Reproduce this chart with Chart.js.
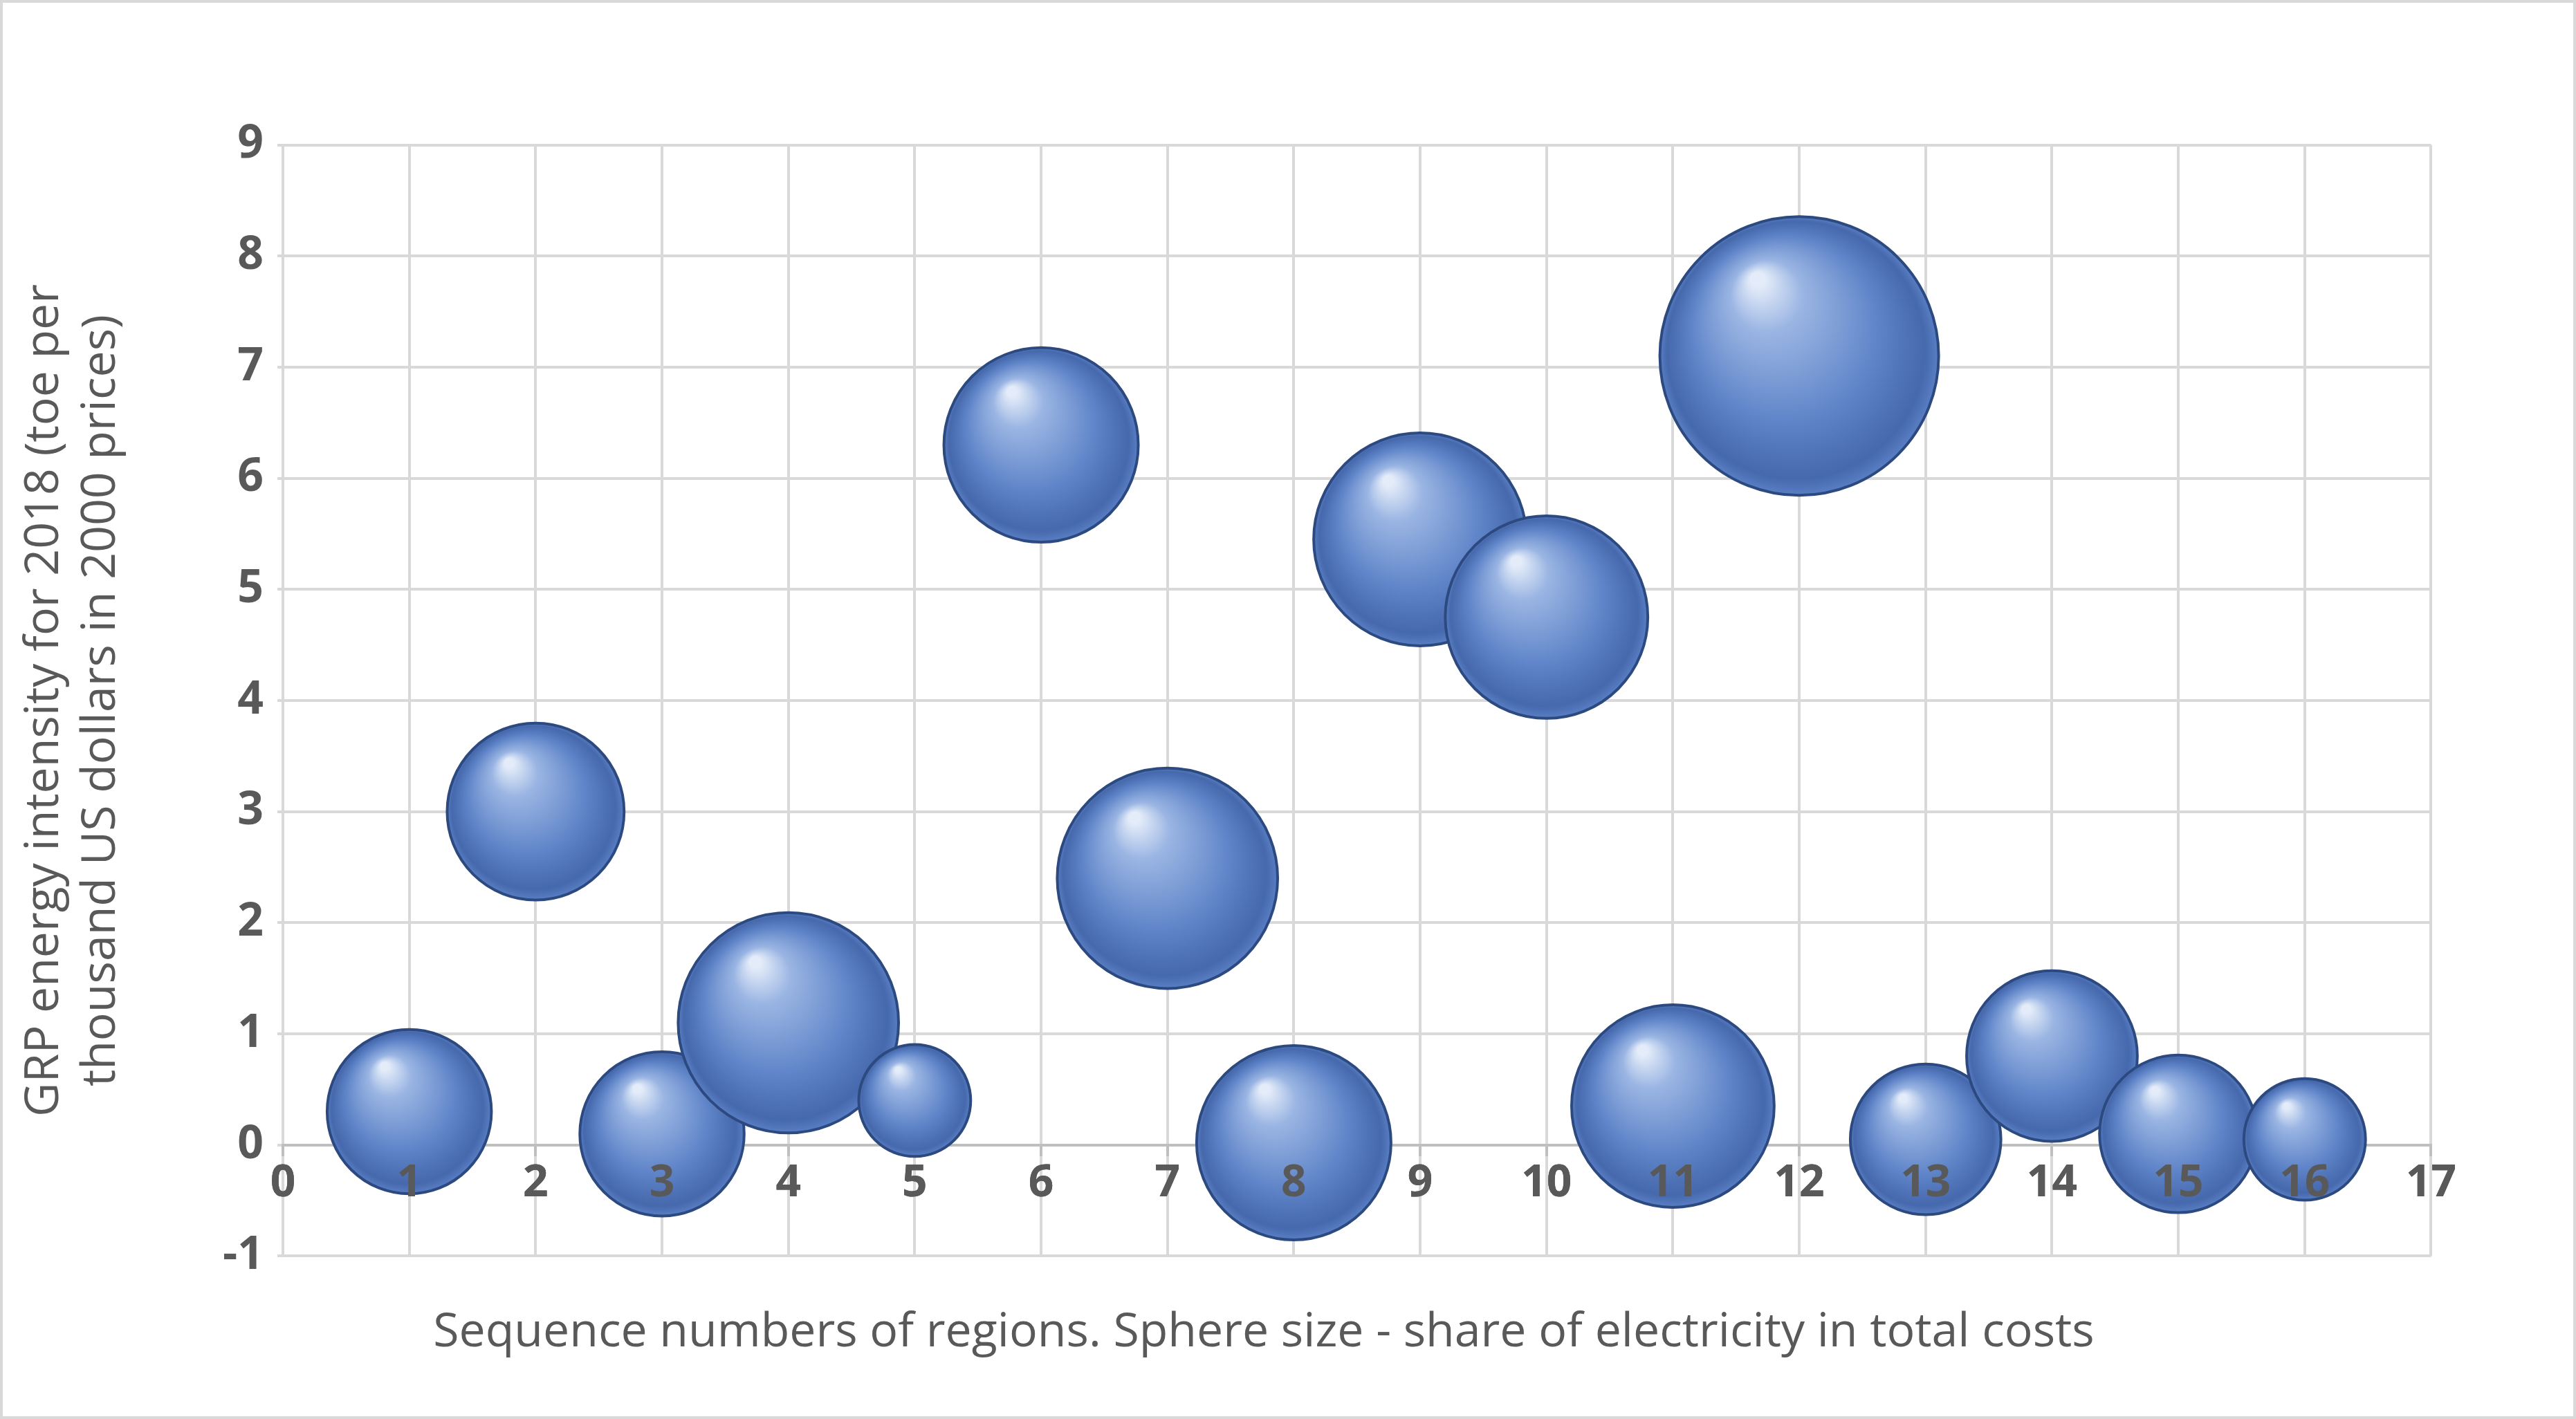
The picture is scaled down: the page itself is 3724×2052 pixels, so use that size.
<!DOCTYPE html>
<html><head><meta charset="utf-8">
<script src="https://cdn.jsdelivr.net/npm/chart.js@4/dist/chart.umd.min.js"></script>
<style>html,body{margin:0;padding:0;background:#fff}#w{width:3724px;height:2052px;box-sizing:border-box;border:4px solid #d9d9d9}</style>
</head><body><div id="w"><canvas id="c"></canvas></div>
<script>
const regions=[1,2,3,4,5,6,7,8,9,10,11,12,13,14,15,16];
const intensity=[0.3,3.0,0.1,1.1,0.4,6.3,2.4,0.02,5.45,4.75,0.35,7.1,0.05,0.8,0.1,0.05];
const share=[25,29,25,45,11.6,35,45,35,42,38,38,72,21,27,23,13.7];
const yTicks=[-1,0,1,2,3,4,5,6,7,8,9];
const xTicks=[0,1,2,3,4,5,6,7,8,9,10,11,12,13,14,15,16,17];

const shade={id:'shade',
  beforeDatasetsDraw(ch){
    const meta=ch.getDatasetMeta(0);const c=ch.ctx;
    meta.data.forEach((el,i)=>{
      const r=el.options.radius;
      const g=c.createRadialGradient(el.x-r*0.3,el.y-r*0.55,r*0.05,el.x,el.y,r);
      g.addColorStop(0,'#e4ecf9');g.addColorStop(0.22,'#9ab5e3');g.addColorStop(0.65,'#5f84c8');g.addColorStop(0.92,'#4668ad');g.addColorStop(1,'#5a7fc4');
      el.options.backgroundColor=g;
    });
  },
  afterDatasetsDraw(ch){
    const s=ch.scales.x;ch.ctx.save();s.drawLabels(ch.chartArea);ch.ctx.restore();
  }};
new Chart(document.getElementById('c'),{
  type:'bubble',
  data:{datasets:[{data:regions.map((x,i)=>({x:x,y:intensity[i],r:23.75*Math.sqrt(share[i])})),
    backgroundColor:ctx=>'#5b82c9',borderColor:'#2c4a80',borderWidth:4}]},
  options:{responsive:true,maintainAspectRatio:false,animation:false,
    layout:{padding:{top:60,right:90,left:20,bottom:0}},
    plugins:{legend:{display:false},tooltip:{enabled:false},
      title:{display:true,position:'bottom',text:'Sequence numbers of regions. Sphere size - share of electricity in total costs',
        color:'#595959',font:{family:'Open Sans',size:68,weight:'normal'},padding:{top:70,bottom:80}}},
    scales:{
      x:{type:'linear',min:0,max:17,position:{y:0},
        afterBuildTicks:s=>{s.ticks=xTicks.map(v=>({value:v}))},
        ticks:{color:'#595959',font:{family:'Open Sans',size:64,weight:'bold'},padding:4,autoSkip:false,maxRotation:0},
        grid:{color:'#d9d9d9',lineWidth:4,tickLength:14,tickColor:'#bfbfbf'},
        border:{color:'#bfbfbf',width:4}},
      y:{min:-1,max:9,
        afterBuildTicks:s=>{s.ticks=yTicks.map(v=>({value:v}))},
        afterFit:s=>{s.width=385},
        ticks:{color:'#595959',font:{family:'Open Sans',size:66,weight:'bold'},padding:20},
        grid:{color:'#d9d9d9',lineWidth:4},border:{display:false},
        title:{display:true,text:['GRP energy intensity for 2018 (toe per','thousand US dollars in 2000 prices)'],
          color:'#595959',font:{family:'Open Sans',size:68},padding:{top:0,bottom:10}}}
    }},
  plugins:[shade]
});
</script></body></html>
